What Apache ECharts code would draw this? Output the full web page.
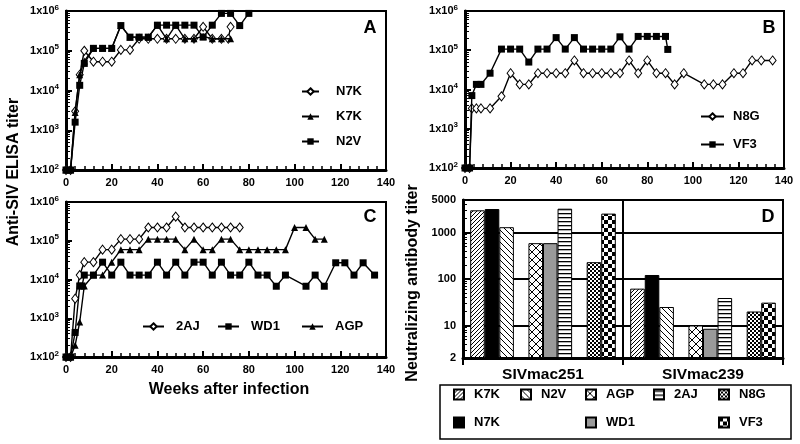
<!DOCTYPE html>
<html><head><meta charset="utf-8">
<script src="https://cdn.jsdelivr.net/npm/echarts@6/dist/echarts.min.js"></script>
<style>html,body{margin:0;padding:0;background:#fff}#c{width:800px;height:444px}</style>
</head><body><div id="c"></div>
<script>
// ---------- Panel A ----------
const weeksN7K = [0,2,4,6,8,12,16,20,24,28,32,36,40,44,48,52,56,60,64,68,71,72];
const titerN7K = [100,100,3000,25000,100000,53000,53000,53000,105000,105000,200000,200000,200000,200000,200000,200000,200000,400000,200000,200000,200000,400000];
const weeksK7K = [0,2,4,6,8,12,16,20,24,28,32,36,40,44,48,52,56,60,64,68,72];
const titerK7K = [100,100,2800,25000,55000,115000,115000,115000,430000,220000,220000,220000,440000,200000,440000,200000,200000,230000,200000,200000,200000];
const weeksN2V = [0,2,4,6,8,12,16,20,24,28,32,36,40,44,48,52,56,60,64,68,72,76,80];
const titerN2V = [100,100,1600,13500,48000,115000,115000,115000,430000,220000,220000,220000,440000,440000,440000,440000,440000,220000,440000,870000,870000,430000,870000];
// ---------- Panel B ----------
const weeksN8G = [0,2,3,5,7,11,16,20,24,28,32,36,40,44,48,52,56,60,64,68,72,76,80,84,88,92,96,105,109,113,118,122,126,130,135];
const titerN8G = [100,100,3300,3300,3300,3300,6700,26000,13500,13500,26000,26000,26000,26000,55000,26000,26000,26000,26000,26000,55000,26000,55000,26000,26000,13500,26000,13500,13500,13500,26000,26000,55000,55000,55000];
const weeksVF3 = [0,2,3,5,7,11,16,20,24,28,32,36,40,44,48,52,56,60,64,68,72,76,80,84,88,89];
const titerVF3 = [100,100,7000,13500,13500,26000,107000,107000,107000,50000,107000,107000,210000,107000,210000,107000,107000,107000,107000,220000,107000,225000,225000,225000,225000,105000];
// ---------- Panel C ----------
const weeks2AJ = [0,2,4,6,8,12,16,20,24,28,32,36,40,44,48,52,56,60,64,68,72,76];
const titer2AJ = [100,100,3200,13000,28000,28000,59000,59000,110000,110000,110000,220000,220000,220000,420000,220000,220000,220000,220000,220000,220000,220000];
const weeksWD1 = [0,2,4,6,7,8,12,16,20,24,28,32,36,40,44,48,52,56,60,64,68,72,76,80,84,88,92,96,105,109,113,118,122,126,130,135];
const titerWD1 = [100,100,430,6800,6800,13000,13000,28000,13000,28000,13000,13000,13000,28000,13000,28000,13000,28000,28000,13000,28000,13000,13000,28000,13000,13000,6700,13000,6700,13000,6700,27000,27000,13000,27000,13000];
const weeksAGP = [0,2,4,6,8,12,16,20,24,28,32,36,40,44,48,52,56,60,64,68,72,76,80,84,88,92,96,100,105,109,113];
const titerAGP = [100,100,200,800,6800,13000,13000,28000,59000,59000,59000,110000,110000,110000,110000,59000,110000,59000,59000,110000,110000,59000,59000,59000,59000,59000,59000,220000,220000,110000,110000];
// ---------- Panel D ----------
const neutCategories = ['SIVmac251','SIVmac239'];
const neutK7K = [3000, 62];
const neutN7K = [3200, 122];
const neutN2V = [1300, 25];
const neutAGP = [590, 10];
const neutWD1 = [590, 8.5];
const neut2AJ = [3250, 39];
const neutN8G = [230, 20];
const neutVF3 = [2550, 31];
const titerTicks = [100, 1000, 10000, 100000, 1000000];

const font = '"Liberation Sans", Arial, Helvetica, sans-serif';

function pat(size, draw) {
  const c = document.createElement('canvas');
  c.width = c.height = size;
  const g = c.getContext('2d');
  g.fillStyle = '#fff'; g.fillRect(0, 0, size, size);
  g.strokeStyle = '#000'; g.fillStyle = '#000';
  draw(g, size);
  return { image: c, repeat: 'repeat' };
}
function diag(g, s, up) {
  g.lineWidth = 1;
  g.beginPath();
  for (let k = -1; k <= 1; k++) {
    if (up) { g.moveTo(k * s, s); g.lineTo(k * s + s, 0); }
    else { g.moveTo(k * s, 0); g.lineTo(k * s + s, s); }
  }
  g.stroke();
}
const patK7K = pat(4, (g, s) => diag(g, s, true));
const patN2V = pat(6, (g, s) => diag(g, s, false));
const patAGP = pat(8, (g, s) => { diag(g, s, true); diag(g, s, false); });
const pat2AJ = pat(4, (g, s) => { g.fillRect(0, 1, s, 1.3); });
const patN8G = pat(4, (g, s) => { g.fillRect(0, 0, 2, 2); g.fillRect(2, 2, 2, 2); });
const patVF3 = pat(8, (g, s) => { g.fillRect(0, 0, 4, 4); g.fillRect(4, 4, 4, 4); });

const gridBase = { show: true, borderColor: '#000', borderWidth: 2, backgroundColor: 'transparent' };
const grids = [
  { left: 66, top: 11, width: 320, height: 159 },
  { left: 465, top: 11, width: 319, height: 157 },
  { left: 66, top: 202, width: 320, height: 155 },
  { left: 463, top: 200, width: 320, height: 158 }
].map(g => Object.assign({}, gridBase, g));

const tickLabel = { color: '#000', fontFamily: font, fontWeight: 'bold', fontSize: 11 };

function weekAxis(i) {
  return {
    type: 'value', gridIndex: i, min: 0, max: 140, interval: 20,
    axisLine: { show: true, onZero: false, lineStyle: { color: '#000', width: 3 } },
    axisTick: { show: true, inside: true, length: 6, lineStyle: { color: '#000', width: 2 } },
    minorTick: { show: true, splitNumber: 5, length: 4, lineStyle: { color: '#000', width: 1.5 } },
    axisLabel: Object.assign({ margin: 7 }, tickLabel),
    splitLine: { show: false }
  };
}
function titerAxis(i) {
  return {
    type: 'log', logBase: 10, gridIndex: i, min: titerTicks[0], max: titerTicks[titerTicks.length - 1],
    axisLine: { show: true, onZero: false, lineStyle: { color: '#000', width: 3 } },
    axisTick: { show: true, inside: true, length: 6, lineStyle: { color: '#000', width: 2 } },
    minorTick: { show: true, splitNumber: 9, length: 4, lineStyle: { color: '#000', width: 1 } },
    axisLabel: Object.assign({
      margin: 7,
      formatter: v => '1x10{s|' + Math.round(Math.log10(v)) + '}',
      rich: { s: { fontSize: 8, fontWeight: 'bold', fontFamily: font, color: '#000', padding: [0, 0, 7, 0] } }
    }, tickLabel),
    splitLine: { show: false }
  };
}

function lineSeries(name, weeks, titers, gi, kind) {
  const s = {
    type: 'line', name, xAxisIndex: gi, yAxisIndex: gi,
    data: weeks.map((w, k) => [w, titers[k]]),
    lineStyle: { color: '#000', width: 1.4 },
    emphasis: { disabled: true }
  };
  if (kind === 'diamond') { s.symbol = 'diamond'; s.symbolSize = [7, 9]; s.itemStyle = { color: '#fff', borderColor: '#000', borderWidth: 1 }; s.z = 3; }
  if (kind === 'triangle') { s.symbol = 'triangle'; s.symbolSize = 7; s.itemStyle = { color: '#000' }; s.z = 4; }
  if (kind === 'square') { s.symbol = 'rect'; s.symbolSize = 7; s.itemStyle = { color: '#000' }; s.z = 5; }
  return s;
}
function barSeries(name, values, fill) {
  return {
    type: 'bar', name, xAxisIndex: 3, yAxisIndex: 3, data: values,
    barGap: '0%', barCategoryGap: '9%',
    itemStyle: { color: fill, borderColor: '#000', borderWidth: 1 },
    emphasis: { disabled: true }
  };
}
function leg(name, left, top, iw, ih, pad, icon) {
  const l = {
    data: [name], left, top, orient: 'horizontal', padding: 0, itemWidth: iw, itemHeight: ih,
    selectedMode: false,
    textStyle: { fontFamily: font, fontWeight: 'bold', fontSize: 13, color: '#000', padding: [0, 0, 0, pad] }
  };
  if (icon) l.icon = icon;
  return l;
}

const option = {
  animation: false,
  backgroundColor: '#fff',
  textStyle: { fontFamily: font },
  grid: grids,
  xAxis: [weekAxis(0), weekAxis(1), weekAxis(2), {
    type: 'category', gridIndex: 3, data: neutCategories,
    axisLine: { show: true, lineStyle: { color: '#000', width: 3 } },
    axisTick: { show: true, length: 7, lineStyle: { color: '#000', width: 2 } },
    axisLabel: { color: '#000', fontFamily: font, fontWeight: 'bold', fontSize: 15.5, margin: 9 },
    splitLine: { show: true, lineStyle: { color: '#000', width: 2 } }
  }],
  yAxis: [titerAxis(0), titerAxis(1), titerAxis(2), {
    type: 'log', logBase: 10, gridIndex: 3, min: 2, max: 5000, startValue: 2,
    axisLine: { show: true, onZero: false, lineStyle: { color: '#000', width: 3 } },
    axisTick: { show: true, inside: true, length: 6, lineStyle: { color: '#000', width: 2 } },
    minorTick: { show: true, splitNumber: 9, length: 4, lineStyle: { color: '#000', width: 1 } },
    axisLabel: Object.assign({ margin: 7, showMinLabel: true, showMaxLabel: true, formatter: v => String(Math.round(v)) }, tickLabel),
    splitLine: { show: true, lineStyle: { color: '#000', width: 2 } }
  }],
  legend: [
    leg('N7K', 301, 85, 17, 8, 12), leg('K7K', 301, 110, 17, 8, 12), leg('N2V', 301, 135, 17, 8, 12),
    leg('N8G', 700, 110, 23, 8, 4), leg('VF3', 700, 138, 23, 8, 4),
    leg('2AJ', 142, 320, 21, 8, 7), leg('WD1', 217, 320, 21, 8, 7), leg('AGP', 301, 320, 21, 8, 7),
    leg('K7K ', 453, 388, 10, 10, 5, 'rect'), leg('N2V ', 520, 388, 10, 10, 5, 'rect'), leg('AGP ', 585, 388, 10, 10, 5, 'rect'),
    leg('2AJ ', 653, 388, 10, 10, 5, 'rect'), leg('N8G ', 718, 388, 10, 10, 5, 'rect'),
    leg('N7K ', 453, 416, 10, 10, 5, 'rect'), leg('WD1 ', 585, 416, 10, 10, 5, 'rect'), leg('VF3 ', 718, 416, 10, 10, 5, 'rect')
  ],
  series: [
    lineSeries('N7K', weeksN7K, titerN7K, 0, 'diamond'),
    lineSeries('K7K', weeksK7K, titerK7K, 0, 'triangle'),
    lineSeries('N2V', weeksN2V, titerN2V, 0, 'square'),
    lineSeries('N8G', weeksN8G, titerN8G, 1, 'diamond'),
    lineSeries('VF3', weeksVF3, titerVF3, 1, 'square'),
    lineSeries('2AJ', weeks2AJ, titer2AJ, 2, 'diamond'),
    lineSeries('WD1', weeksWD1, titerWD1, 2, 'square'),
    lineSeries('AGP', weeksAGP, titerAGP, 2, 'triangle'),
    barSeries('K7K ', neutK7K, patK7K),
    barSeries('N7K ', neutN7K, '#000'),
    barSeries('N2V ', neutN2V, patN2V),
    barSeries('gap1', [null, null], '#fff'),
    barSeries('AGP ', neutAGP, patAGP),
    barSeries('WD1 ', neutWD1, '#9a9a9a'),
    barSeries('2AJ ', neut2AJ, pat2AJ),
    barSeries('gap2', [null, null], '#fff'),
    barSeries('N8G ', neutN8G, patN8G),
    barSeries('VF3 ', neutVF3, patVF3)
  ],
  graphic: [
    { type: 'rect', shape: { x: 440, y: 385, width: 351, height: 54 }, style: { fill: 'none', stroke: '#000', lineWidth: 1.5 }, silent: true },
    { type: 'text', x: 370, y: 28, style: { text: 'A', fontFamily: font, fontWeight: 'bold', fontSize: 18, fill: '#000', align: 'center', verticalAlign: 'middle' } },
    { type: 'text', x: 769, y: 28, style: { text: 'B', fontFamily: font, fontWeight: 'bold', fontSize: 18, fill: '#000', align: 'center', verticalAlign: 'middle' } },
    { type: 'text', x: 370, y: 217, style: { text: 'C', fontFamily: font, fontWeight: 'bold', fontSize: 18, fill: '#000', align: 'center', verticalAlign: 'middle' } },
    { type: 'text', x: 768, y: 217, style: { text: 'D', fontFamily: font, fontWeight: 'bold', fontSize: 18, fill: '#000', align: 'center', verticalAlign: 'middle' } },
    { type: 'text', x: 14, y: 172, rotation: Math.PI / 2, style: { text: 'Anti-SIV ELISA titer', fontFamily: font, fontWeight: 'bold', fontSize: 16, fill: '#000', align: 'center', verticalAlign: 'middle' } },
    { type: 'text', x: 229, y: 390, style: { text: 'Weeks after infection', fontFamily: font, fontWeight: 'bold', fontSize: 16, fill: '#000', align: 'center', verticalAlign: 'middle' } },
    { type: 'text', x: 413, y: 283, rotation: Math.PI / 2, style: { text: 'Neutralizing antibody titer', fontFamily: font, fontWeight: 'bold', fontSize: 16, fill: '#000', align: 'center', verticalAlign: 'middle' } }
  ]
};
const chart = echarts.init(document.getElementById('c'), null, { renderer: 'canvas' });
chart.setOption(option);
</script>
</body></html>
